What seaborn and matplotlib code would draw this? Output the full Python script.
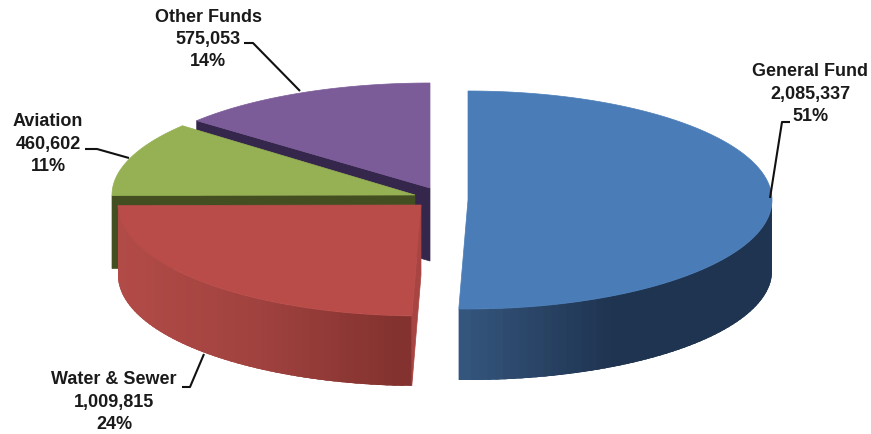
import numpy as np
import matplotlib
matplotlib.use("Agg")
import matplotlib.pyplot as plt
import seaborn as sns

# Fund amounts, clockwise from twelve o'clock
funds = ["General Fund", "Water & Sewer", "Aviation", "Other Funds"]
amounts = [2085337, 1009815, 460602, 575053]
percents = ["51%", "24%", "11%", "14%"]

sns.set_theme(style="white")
plt.rcParams["font.family"] = ["Liberation Sans", "DejaVu Sans"]

# Exploded slice geometry in pixel axes: apex x, apex y, radius x, radius y
GEOM = {
    "General Fund": (468, 200, 304, 109),
    "Water & Sewer": (421, 205, 303, 111),
    "Aviation": (415, 195, 303, 108),
    "Other Funds": (430, 188, 304, 105),
}
DEPTH = {"General Fund": 71, "Water & Sewer": 70, "Aviation": 73, "Other Funds": 73}
TOP = {"General Fund": "#4a7db8", "Water & Sewer": "#b94c49",
       "Aviation": "#95b153", "Other Funds": "#7b5c98"}
WALL = {"Aviation": "#434f20", "Other Funds": "#35264b", "Water & Sewer": "#a84542"}
SIDE = {"General Fund": ["#35577f", "#1f3450", "#1f3450"],
        "Water & Sewer": ["#b24b47", "#a0423f", "#82312e"]}

# Cumulative angles come straight from the amounts
fractions = np.array(amounts) / np.sum(amounts)
edges = np.concatenate([[0], np.cumsum(fractions)]) * 2 * np.pi
spans = {f: (edges[i], edges[i + 1]) for i, f in enumerate(funds)}


def rim(name, a):
    cx, cy, rx, ry = GEOM[name]
    return cx + rx * np.sin(a), cy - ry * np.cos(a)


fig, ax = plt.subplots(figsize=(8.71, 4.34), dpi=100)
fig.subplots_adjust(0, 0, 1, 1)
ax.set_xlim(0, 871)
ax.set_ylim(434, 0)
ax.axis("off")


def top_face(name, z):
    a0, a1 = spans[name]
    t = np.linspace(a0, a1, 200)
    x, y = rim(name, t)
    cx, cy = GEOM[name][:2]
    ax.fill(np.r_[cx, x], np.r_[cy, y], color=TOP[name], lw=0.5, zorder=z)


def cut_wall(name, a, z):
    cx, cy = GEOM[name][:2]
    d = DEPTH[name]
    x, y = rim(name, a)
    ax.fill([cx, x, x, cx], [cy, y, y + d, cy + d], color=WALL[name], lw=0.5, zorder=z)


def outer_side(name, a0, a1, z, bands=60):
    # Front rim, shaded by screen x; each band runs under the next so no seams show
    d = DEPTH[name]
    colors = sns.blend_palette(SIDE[name], bands)
    x0, x1 = sorted((rim(name, a0)[0], rim(name, a1)[0]))
    cuts = np.linspace(a0, a1, bands + 1)
    order = range(bands)
    if rim(name, a0)[0] > rim(name, a1)[0]:
        order = reversed(range(bands))
    step = cuts[1] - cuts[0]
    for k in order:
        lo = cuts[k] - step * 1.5 if rim(name, a0)[0] < rim(name, a1)[0] else cuts[k]
        hi = cuts[k + 1] + step * 1.5 if rim(name, a0)[0] > rim(name, a1)[0] else cuts[k + 1]
        t = np.linspace(max(lo, a0), min(hi, a1), 12)
        x, y = rim(name, t)
        c = colors[int(np.clip((x.mean() - x0) / (x1 - x0), 0, 0.999) * bands)]
        ax.fill(np.r_[x, x[::-1]], np.r_[y, y[::-1] + d], color=c, lw=0, zorder=z)


# Back to front: Other Funds, Aviation, Water & Sewer, General Fund
cut_wall("Other Funds", spans["Other Funds"][0], 1)
top_face("Other Funds", 2)
cut_wall("Aviation", spans["Aviation"][0], 3)
top_face("Aviation", 4)
cut_wall("Water & Sewer", spans["Water & Sewer"][0], 5)
outer_side("Water & Sewer", *spans["Water & Sewer"], 6)
top_face("Water & Sewer", 7)
outer_side("General Fund", np.pi / 2, spans["General Fund"][1], 6)
top_face("General Fund", 7)

# Callout text and leader lines
label_pos = {"General Fund": (810, 72), "Water & Sewer": (114, 380),
             "Aviation": (48, 122), "Other Funds": (208, 17)}
leaders = {"General Fund": ([770, 782, 790], [198, 122, 122]),
           "Water & Sewer": ([182, 190, 204], [387, 387, 354]),
           "Aviation": ([85, 97, 129], [149, 149, 158]),
           "Other Funds": ([244, 253, 300], [43, 43, 91])}
for name, amount, pct in zip(funds, amounts, percents):
    x, y = label_pos[name]
    for i, line in enumerate([name, f"{amount:,}", pct]):
        ax.text(x, y + i * 22.3, line, ha="center", va="center", fontsize=13,
                fontweight="bold", color="#1a1a1a", zorder=10)
    lx, ly = leaders[name]
    ax.plot(lx, ly, color="#111111", lw=1.5, solid_capstyle="butt", zorder=9)

fig.savefig("out.png", dpi=100)
